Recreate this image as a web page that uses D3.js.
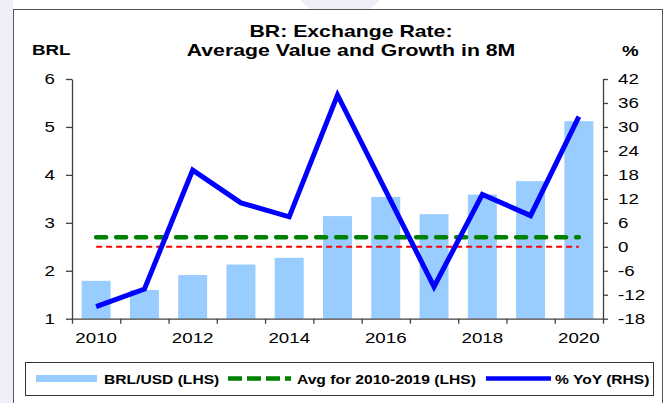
<!DOCTYPE html>
<html>
<head>
<meta charset="utf-8">
<script src="https://cdn.jsdelivr.net/npm/d3@7"></script>
<style>
  body { margin: 0; background: #fff; }
  svg { display: block; }
  text { font-family: "Liberation Sans", Arial, sans-serif; fill: #000; }
</style>
</head>
<body>
<div id="chart"></div>
<script>
// data
const years = [2010, 2011, 2012, 2013, 2014, 2015, 2016, 2017, 2018, 2019, 2020]
const rateValues = [1.79, 1.60, 1.91, 2.13, 2.27, 3.14, 3.54, 3.18, 3.59, 3.87, 5.12]
const yoyValues = [-15.0, -10.6, 19.2, 11.0, 7.5, 38.0, 14.0, -10.0, 13.1, 7.8, 32.6]
const avgValue = 2.70
const leftTicks = [1, 2, 3, 4, 5, 6]
const rightTicks = [-18, -12, -6, 0, 6, 12, 18, 24, 30, 36, 42]
const yearLabels = [2010, 2012, 2014, 2016, 2018, 2020]

const W = 667
const H = 403
const SX = 1.25 // text in the picture is stretched sideways

const plot = { left: 72, right: 603, top: 79, bottom: 318.7 }

const svg = d3
  .select('#chart')
  .append('svg')
  .attr('width', W)
  .attr('height', H)

// page background + frame
svg.append('rect').attr('x', 0).attr('y', 0).attr('width', 13).attr('height', H).attr('fill', '#eeeef7')
svg.append('path').attr('d', 'M300,0 L380,0 L370,9 L310,9 Z').attr('fill', '#eeeef7')
svg
  .append('rect')
  .attr('x', 13.5)
  .attr('y', 9.5)
  .attr('width', 649)
  .attr('height', 410)
  .attr('fill', '#fff')
  .attr('stroke', '#555')
  .attr('stroke-width', 1)

function addText(x, y, str, size, anchor) {
  svg
    .append('g')
    .attr('transform', 'translate(' + x + ',' + y + ')')
    .append('text')
    .attr('transform', 'scale(' + SX + ',1)')
    .attr('text-anchor', anchor || 'start')
    .attr('font-size', size)
    .attr('font-weight', 'bold')
    .text(str)
}

// scales
const xBand = d3
  .scaleBand()
  .domain(years)
  .range([plot.left, plot.right])
  .paddingInner(0.4)
  .paddingOuter(0.2)

const xEdge = d3
  .scaleLinear()
  .domain([0, years.length])
  .range([plot.left, plot.right])

const yLeft = d3
  .scaleLinear()
  .domain([1, 6])
  .range([plot.bottom, plot.top])

const yRight = d3
  .scaleLinear()
  .domain([-18, 42])
  .range([plot.bottom, plot.top])

const cx = d => xBand(d) + xBand.bandwidth() / 2

// bars
svg
  .append('g')
  .selectAll('rect')
  .data(years)
  .enter()
  .append('rect')
  .attr('x', d => xBand(d))
  .attr('y', (d, i) => yLeft(rateValues[i]))
  .attr('width', xBand.bandwidth())
  .attr('height', (d, i) => yLeft(1) - yLeft(rateValues[i]))
  .attr('fill', '#99ccff')

// zero line (RHS)
svg
  .append('line')
  .attr('x1', cx(years[0]))
  .attr('x2', cx(years[years.length - 1]))
  .attr('y1', yRight(0))
  .attr('y2', yRight(0))
  .attr('stroke', '#ff0000')
  .attr('stroke-width', 2)
  .style('stroke-dasharray', '6,4')

// average line (LHS)
svg
  .append('line')
  .attr('x1', cx(years[0]))
  .attr('x2', cx(years[years.length - 1]))
  .attr('y1', yLeft(avgValue))
  .attr('y2', yLeft(avgValue))
  .attr('stroke', '#008000')
  .attr('stroke-width', 4.5)
  .attr('stroke-linecap', 'round')
  .style('stroke-dasharray', '10,10')

// yoy line
const line = d3
  .line()
  .x((d, i) => cx(years[i]))
  .y(d => yRight(d))

svg
  .append('path')
  .datum(yoyValues)
  .attr('d', line)
  .attr('fill', 'none')
  .attr('stroke', '#0000ff')
  .attr('stroke-width', 5)
  .attr('stroke-linejoin', 'miter')

// axes
const axisColor = '#404040'
const plain = d => String(d) // hyphen minus like the original

const leftAxis = d3.axisLeft(yLeft).tickValues(leftTicks).tickSize(6).tickSizeOuter(0).tickFormat(plain)
const gL = svg
  .append('g')
  .attr('class', 'axis y-left')
  .attr('transform', 'translate(' + plot.left + ',0)')
  .call(leftAxis)

const rightAxis = d3.axisRight(yRight).tickValues(rightTicks).tickSize(5).tickSizeOuter(0).tickFormat(plain)
const gR = svg
  .append('g')
  .attr('class', 'axis y-right')
  .attr('transform', 'translate(' + plot.right + ',0)')
  .call(rightAxis)

const edgeAxis = d3.axisBottom(xEdge).tickValues(d3.range(years.length + 1)).tickSize(5).tickSizeOuter(0).tickFormat('')
const gE = svg
  .append('g')
  .attr('class', 'axis x-edge')
  .attr('transform', 'translate(0,' + plot.bottom + ')')
  .call(edgeAxis)

const labelAxis = d3.axisBottom(xBand).tickValues(yearLabels).tickSize(0).tickPadding(14)
const gX = svg
  .append('g')
  .attr('class', 'axis x-labels')
  .attr('transform', 'translate(0,' + plot.bottom + ')')
  .call(labelAxis)
gX.select('.domain').remove()

svg.selectAll('.axis path, .axis line').attr('stroke', axisColor).attr('stroke-width', 1.3)
svg.selectAll('.axis text').attr('font-size', 15).attr('font-family', '"Liberation Sans", Arial, sans-serif').attr('fill', '#000')

gL.selectAll('text').attr('x', -17 / SX).attr('transform', 'scale(' + SX + ',1)')
gR.selectAll('text').attr('x', 15 / SX).attr('transform', 'scale(' + SX + ',1)')
gX.selectAll('text').attr('transform', 'scale(' + SX + ',1)')

// titles
addText(351, 37, 'BR: Exchange Rate:', 17, 'middle')
addText(351, 56, 'Average Value and Growth in 8M', 17, 'middle')
addText(32, 55, 'BRL', 15, 'start')
addText(622, 56, '%', 15, 'start')

// legend
svg
  .append('rect')
  .attr('x', 25.5)
  .attr('y', 362.5)
  .attr('width', 628)
  .attr('height', 33)
  .attr('fill', '#fff')
  .attr('stroke', '#333')
  .attr('stroke-width', 1)

svg.append('rect').attr('x', 36).attr('y', 375).attr('width', 61).attr('height', 7).attr('fill', '#99ccff')
addText(104, 383.5, 'BRL/USD (LHS)', 12.5, 'start')

svg
  .append('line')
  .attr('x1', 228)
  .attr('x2', 291)
  .attr('y1', 378.5)
  .attr('y2', 378.5)
  .attr('stroke', '#008000')
  .attr('stroke-width', 4.5)
  .style('stroke-dasharray', '14,5')
addText(297, 383.5, 'Avg for 2010-2019 (LHS)', 12.5, 'start')

svg
  .append('line')
  .attr('x1', 486)
  .attr('x2', 551)
  .attr('y1', 378.5)
  .attr('y2', 378.5)
  .attr('stroke', '#0000ff')
  .attr('stroke-width', 4.5)
addText(555, 383.5, '% YoY (RHS)', 12.5, 'start')
</script>
</body>
</html>
